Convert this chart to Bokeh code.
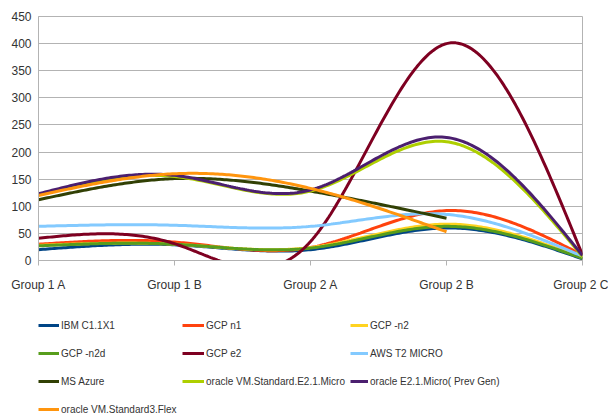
import numpy as np
from bokeh.plotting import figure
from bokeh.layouts import column
from bokeh.models import Range1d, FixedTicker, Legend, LegendItem, LinearAxis
from bokeh.embed import file_html
from bokeh.resources import INLINE

categories = ["Group 1 A", "Group 1 B", "Group 2 A", "Group 2 B", "Group 2 C"]
y_ticks = [0, 50, 100, 150, 200, 250, 300, 350, 400, 450]

ibm_c1 = [20, 29, 20, 60, 3]
gcp_n1 = [30, 34, 24, 92, 10]
gcp_n2 = [28, 30, 24, 67, 5]
gcp_n2d = [27, 30, 23, 63, 4]
gcp_e2 = [41, 31, 35, 400, 10]
aws_t2 = [63, 65, 63, 85, 8]
ms_azure = [112, 151, 128, 78]
oracle_e21 = [121, 155, 128, 219, 7]
oracle_e21_prev = [123, 157, 130, 227, 9]
oracle_flex = [120, 160, 133, 53]

series = [
    ("IBM C1.1X1", ibm_c1, "#004586"),
    ("GCP n1", gcp_n1, "#ff420e"),
    ("GCP -n2", gcp_n2, "#ffd320"),
    ("GCP -n2d", gcp_n2d, "#579d1c"),
    ("GCP e2", gcp_e2, "#7e0021"),
    ("AWS T2 MICRO", aws_t2, "#83caff"),
    ("MS Azure", ms_azure, "#314004"),
    ("oracle VM.Standard.E2.1.Micro", oracle_e21, "#aecf00"),
    ("oracle E2.1.Micro( Prev Gen)", oracle_e21_prev, "#4b1f6f"),
    ("oracle VM.Standard3.Flex", oracle_flex, "#ff950e"),
]


def natural_spline(vals, n=60):
    y = np.asarray(vals, dtype=float)
    k = len(y)
    A = np.zeros((k, k))
    r = np.zeros(k)
    A[0, 0] = A[-1, -1] = 1.0
    for i in range(1, k - 1):
        A[i, i - 1] = 1.0
        A[i, i] = 4.0
        A[i, i + 1] = 1.0
        r[i] = 6.0 * (y[i - 1] - 2 * y[i] + y[i + 1])
    M = np.linalg.solve(A, r)
    xs, ys = [], []
    for i in range(k - 1):
        t = np.linspace(0, 1, n, endpoint=(i == k - 2))
        s = ((1 - t) * y[i] + t * y[i + 1]
             + ((1 - t) ** 3 - (1 - t)) * M[i] / 6.0
             + (t ** 3 - t) * M[i + 1] / 6.0)
        xs.append(i + t)
        ys.append(s)
    return np.concatenate(xs), np.concatenate(ys)


FONT = "Liberation Sans"
TXT = "#333333"
GRID = "#b3b3b3"
W = 608
LEFT = 38

p = figure(width=W, height=295, output_backend="svg", toolbar_location=None,
           x_range=Range1d(0, len(categories) - 1), y_range=Range1d(0, 450),
           min_border_left=LEFT, min_border_right=26, min_border_top=16,
           min_border_bottom=35, x_axis_location=None)
p.outline_line_color = GRID
p.background_fill_color = "white"
p.border_fill_color = "white"

xax = LinearAxis(ticker=FixedTicker(ticks=list(range(len(categories)))))
xax.major_label_overrides = {i: c for i, c in enumerate(categories)}
p.add_layout(xax, "below")

for ax in (xax, p.yaxis[0]):
    ax.axis_line_color = GRID
    ax.major_tick_line_color = GRID
    ax.minor_tick_line_color = None
    ax.major_label_text_font = FONT
    ax.major_label_text_font_size = "12px"
    ax.major_label_text_color = TXT
    ax.major_tick_in = 0

xax.major_tick_out = 5
xax.major_label_standoff = 12
p.yaxis.ticker = FixedTicker(ticks=y_ticks)
p.yaxis.major_tick_out = 0
p.yaxis.major_label_standoff = 7

p.xgrid.visible = False
p.ygrid.ticker = FixedTicker(ticks=y_ticks)
p.ygrid.grid_line_color = GRID
p.ygrid.grid_line_width = 1

for name, vals, color in series:
    xs, ys = natural_spline(vals)
    p.line(xs, ys, line_color=color, line_width=3)

# legend panel below the chart (its frame lines up with the chart's frame)
lp = figure(width=W, height=124, output_backend="svg", toolbar_location=None,
            x_range=Range1d(0, 1), y_range=Range1d(0, 1),
            min_border_left=LEFT, min_border_right=0, min_border_top=0,
            min_border_bottom=0, x_axis_location=None, y_axis_location=None)
lp.outline_line_color = None
lp.xgrid.visible = False
lp.ygrid.visible = False
lp.background_fill_color = "white"
lp.border_fill_color = "white"

items = {}
for name, vals, color in series:
    r = lp.line(x=[np.nan], y=[np.nan], line_color=color, line_width=3)
    items[name] = LegendItem(label=name, renderers=[r])

names = [s[0] for s in series]
columns = [names[0::3], names[1::3], names[2::3]]
col_x = [0, 182 - LEFT, 350 - LEFT]
col_glyph = [21, 22, 18]
for cx, gw, col in zip(col_x, col_glyph, columns):
    n_rows = len(col)
    lg = Legend(items=[items[n] for n in col], orientation="vertical",
                location=(cx, 2 + (4 - n_rows) * 28))
    lg.label_text_font = FONT
    lg.label_text_font_size = "10px"
    lg.label_text_color = TXT
    lg.glyph_width = gw
    lg.glyph_height = 16
    lg.label_height = 16
    lg.label_standoff = 2
    lg.spacing = 12
    lg.padding = 0
    lg.margin = 0
    lg.border_line_color = None
    lg.background_fill_alpha = 0
    lp.add_layout(lg, "center")

layout = column(p, lp)
open("out.html", "w").write(file_html(layout, INLINE))
